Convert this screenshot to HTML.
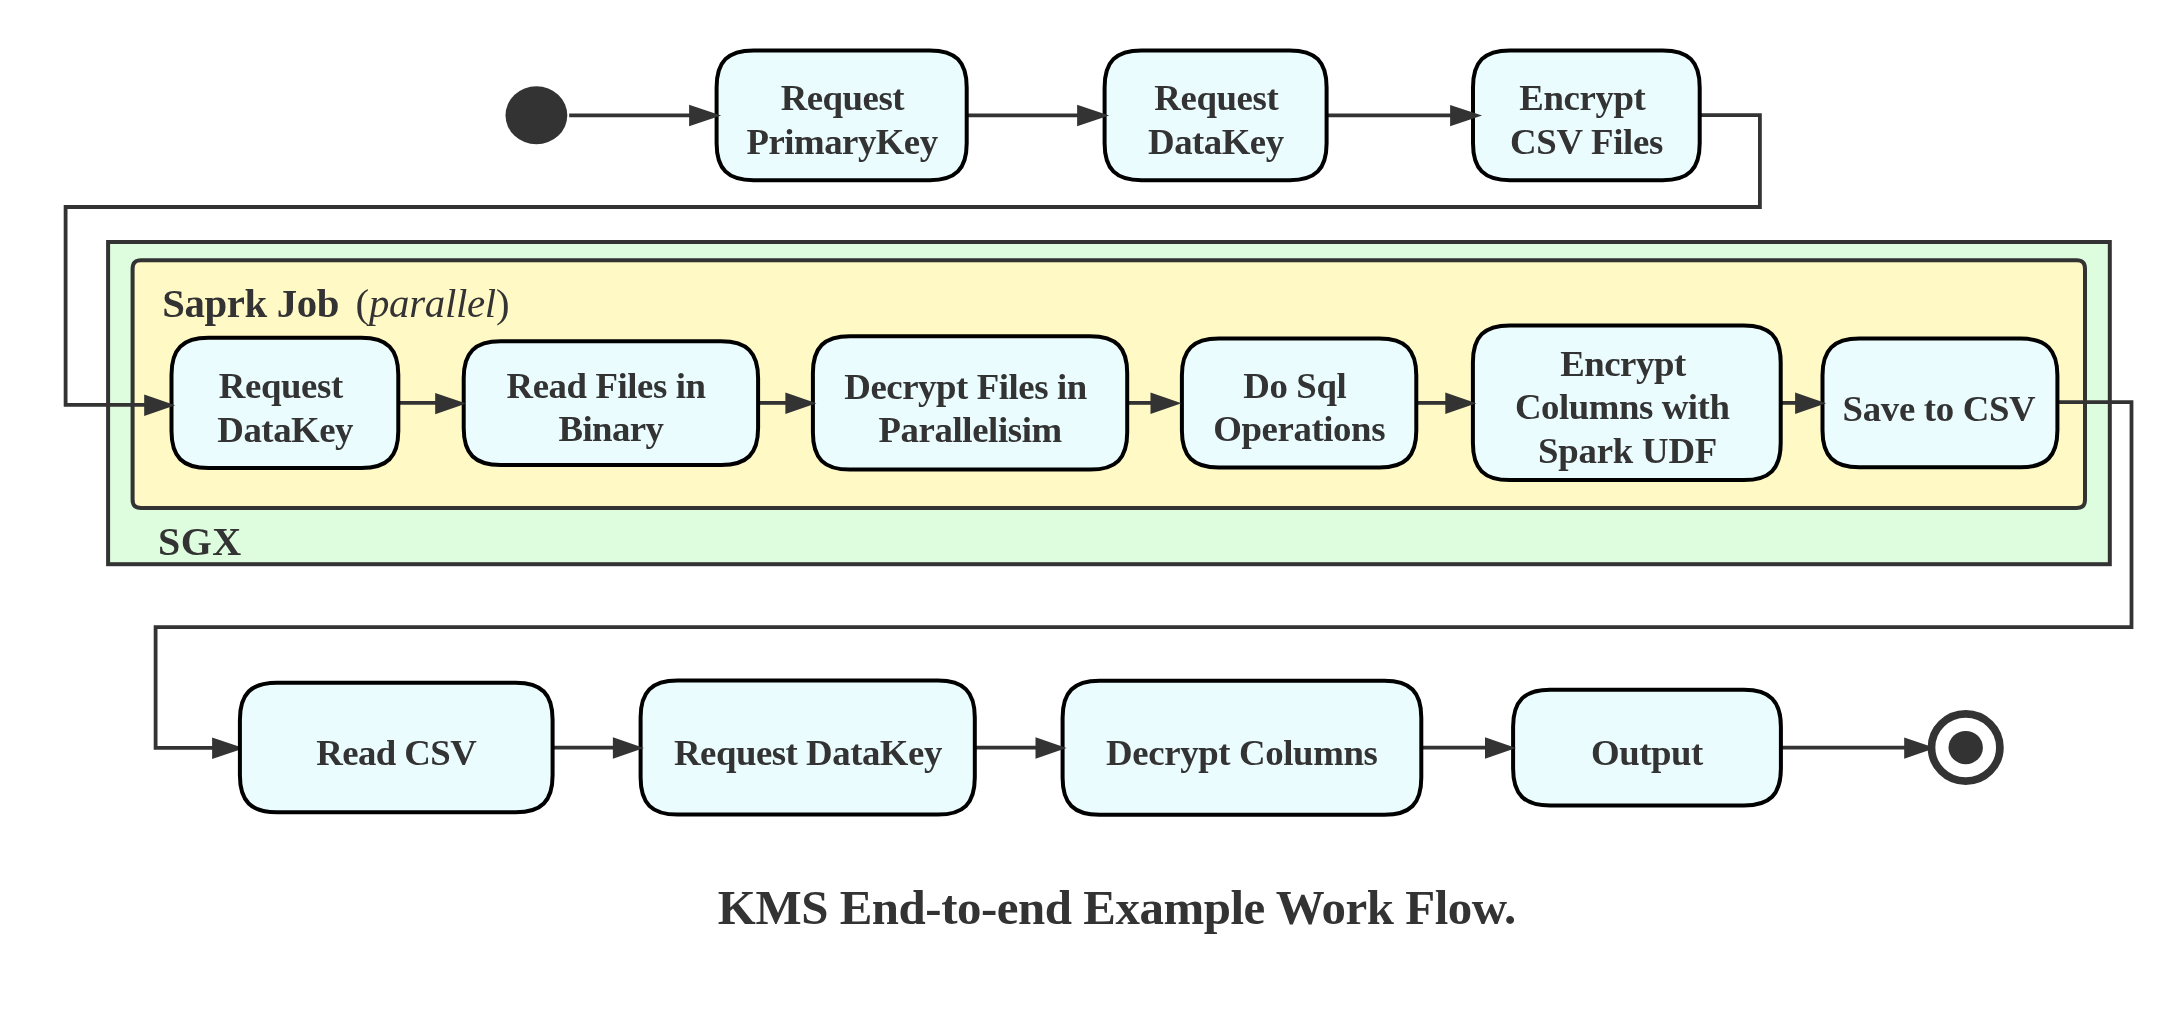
<!DOCTYPE html>
<html><head><meta charset="utf-8"><title>KMS End-to-end Example Work Flow</title>
<style>html,body{margin:0;padding:0;background:#fff;overflow:hidden}svg{display:block;will-change:transform}</style>
</head><body>
<svg width="2179" height="1036" viewBox="0 0 2179 1036"><rect x="108.1" y="242" width="2001.7" height="322.2" fill="#DEFDDE" stroke="#333333" stroke-width="4"/>
<path d="M141.10 260.20H2076.50C2082.45 260.20 2085.00 262.75 2085.00 268.70V499.50C2085.00 505.45 2082.45 508.00 2076.50 508.00H141.10C135.15 508.00 132.60 505.45 132.60 499.50V268.70C132.60 262.75 135.15 260.20 141.10 260.20Z" fill="#FFF9C6" stroke="#333333" stroke-width="4"/>
<polyline points="1701,115.2 1759.9,115.2 1759.9,207 65.6,207 65.6,404.8 150,404.8" fill="none" stroke="#333333" stroke-width="3.8" stroke-linejoin="miter"/>
<polyline points="2057,402.1 2131.5,402.1 2131.5,627.2 155.6,627.2 155.6,747.8 215,747.8" fill="none" stroke="#333333" stroke-width="3.8" stroke-linejoin="miter"/>
<ellipse cx="536.4" cy="115.3" rx="30.9" ry="29" fill="#333333"/>
<line x1="569.2" y1="115.3" x2="692.0" y2="115.3" stroke="#333333" stroke-width="3.8"/>
<line x1="966.0" y1="115.3" x2="1080.0" y2="115.3" stroke="#333333" stroke-width="3.8"/>
<line x1="1326.0" y1="115.3" x2="1453.0" y2="115.3" stroke="#333333" stroke-width="3.8"/>
<line x1="398.0" y1="402.9" x2="438.0" y2="402.9" stroke="#333333" stroke-width="3.8"/>
<line x1="758.0" y1="402.9" x2="788.0" y2="402.9" stroke="#333333" stroke-width="3.8"/>
<line x1="1127.0" y1="402.9" x2="1157.0" y2="402.9" stroke="#333333" stroke-width="3.8"/>
<line x1="1416.0" y1="402.9" x2="1448.0" y2="402.9" stroke="#333333" stroke-width="3.8"/>
<line x1="1780.0" y1="402.9" x2="1798.0" y2="402.9" stroke="#333333" stroke-width="3.8"/>
<line x1="552.0" y1="747.7" x2="616.0" y2="747.7" stroke="#333333" stroke-width="3.8"/>
<line x1="974.0" y1="747.7" x2="1038.0" y2="747.7" stroke="#333333" stroke-width="3.8"/>
<line x1="1421.0" y1="747.7" x2="1488.0" y2="747.7" stroke="#333333" stroke-width="3.8"/>
<line x1="1780.0" y1="747.7" x2="1908.0" y2="747.7" stroke="#333333" stroke-width="3.8"/>
<path d="M212.1 737.5L244.1 748.2L212.1 758.9Z" fill="#333333"/>
<path d="M753.60 50.40H929.70C955.60 50.40 966.70 61.50 966.70 87.40V143.20C966.70 169.10 955.60 180.20 929.70 180.20H753.60C727.70 180.20 716.60 169.10 716.60 143.20V87.40C716.60 61.50 727.70 50.40 753.60 50.40Z" fill="#EAFCFE" stroke="#000" stroke-width="4"/>
<path d="M1141.60 50.40H1289.60C1315.50 50.40 1326.60 61.50 1326.60 87.40V143.20C1326.60 169.10 1315.50 180.20 1289.60 180.20H1141.60C1115.70 180.20 1104.60 169.10 1104.60 143.20V87.40C1104.60 61.50 1115.70 50.40 1141.60 50.40Z" fill="#EAFCFE" stroke="#000" stroke-width="4"/>
<path d="M1510.00 50.40H1662.70C1688.60 50.40 1699.70 61.50 1699.70 87.40V143.20C1699.70 169.10 1688.60 180.20 1662.70 180.20H1510.00C1484.10 180.20 1473.00 169.10 1473.00 143.20V87.40C1473.00 61.50 1484.10 50.40 1510.00 50.40Z" fill="#EAFCFE" stroke="#000" stroke-width="4"/>
<path d="M208.50 337.80H361.30C387.20 337.80 398.30 348.90 398.30 374.80V431.00C398.30 456.90 387.20 468.00 361.30 468.00H208.50C182.60 468.00 171.50 456.90 171.50 431.00V374.80C171.50 348.90 182.60 337.80 208.50 337.80Z" fill="#EAFCFE" stroke="#000" stroke-width="4"/>
<path d="M500.70 341.30H721.10C747.00 341.30 758.10 352.40 758.10 378.30V428.00C758.10 453.90 747.00 465.00 721.10 465.00H500.70C474.80 465.00 463.70 453.90 463.70 428.00V378.30C463.70 352.40 474.80 341.30 500.70 341.30Z" fill="#EAFCFE" stroke="#000" stroke-width="4"/>
<path d="M849.90 336.20H1090.20C1116.10 336.20 1127.20 347.30 1127.20 373.20V432.60C1127.20 458.50 1116.10 469.60 1090.20 469.60H849.90C824.00 469.60 812.90 458.50 812.90 432.60V373.20C812.90 347.30 824.00 336.20 849.90 336.20Z" fill="#EAFCFE" stroke="#000" stroke-width="4"/>
<path d="M1218.90 338.60H1379.30C1405.20 338.60 1416.30 349.70 1416.30 375.60V430.50C1416.30 456.40 1405.20 467.50 1379.30 467.50H1218.90C1193.00 467.50 1181.90 456.40 1181.90 430.50V375.60C1181.90 349.70 1193.00 338.60 1218.90 338.60Z" fill="#EAFCFE" stroke="#000" stroke-width="4"/>
<path d="M1509.90 325.40H1743.70C1769.60 325.40 1780.70 336.50 1780.70 362.40V443.10C1780.70 469.00 1769.60 480.10 1743.70 480.10H1509.90C1484.00 480.10 1472.90 469.00 1472.90 443.10V362.40C1472.90 336.50 1484.00 325.40 1509.90 325.40Z" fill="#EAFCFE" stroke="#000" stroke-width="4"/>
<path d="M1859.50 338.60H2020.40C2046.30 338.60 2057.40 349.70 2057.40 375.60V430.30C2057.40 456.20 2046.30 467.30 2020.40 467.30H1859.50C1833.60 467.30 1822.50 456.20 1822.50 430.30V375.60C1822.50 349.70 1833.60 338.60 1859.50 338.60Z" fill="#EAFCFE" stroke="#000" stroke-width="4"/>
<path d="M276.90 682.70H515.60C541.50 682.70 552.60 693.80 552.60 719.70V775.30C552.60 801.20 541.50 812.30 515.60 812.30H276.90C251.00 812.30 239.90 801.20 239.90 775.30V719.70C239.90 693.80 251.00 682.70 276.90 682.70Z" fill="#EAFCFE" stroke="#000" stroke-width="4"/>
<path d="M677.60 680.60H937.80C963.70 680.60 974.80 691.70 974.80 717.60V777.60C974.80 803.50 963.70 814.60 937.80 814.60H677.60C651.70 814.60 640.60 803.50 640.60 777.60V717.60C640.60 691.70 651.70 680.60 677.60 680.60Z" fill="#EAFCFE" stroke="#000" stroke-width="4"/>
<path d="M1099.60 680.70H1384.30C1410.20 680.70 1421.30 691.80 1421.30 717.70V777.80C1421.30 803.70 1410.20 814.80 1384.30 814.80H1099.60C1073.70 814.80 1062.60 803.70 1062.60 777.80V717.70C1062.60 691.80 1073.70 680.70 1099.60 680.70Z" fill="#EAFCFE" stroke="#000" stroke-width="4"/>
<path d="M1550.10 689.80H1743.90C1769.80 689.80 1780.90 700.90 1780.90 726.80V768.50C1780.90 794.40 1769.80 805.50 1743.90 805.50H1550.10C1524.20 805.50 1513.10 794.40 1513.10 768.50V726.80C1513.10 700.90 1524.20 689.80 1550.10 689.80Z" fill="#EAFCFE" stroke="#000" stroke-width="4"/>
<path d="M689.1 104.8L721.1 115.5L689.1 126.2Z" fill="#333333"/>
<path d="M1077.1 104.8L1109.1 115.5L1077.1 126.2Z" fill="#333333"/>
<path d="M1450.1 104.9L1482.1 115.6L1450.1 126.3Z" fill="#333333"/>
<path d="M144.2 394.5L175.2 405.2L144.2 415.9Z" fill="#333333"/>
<path d="M435.2 392.9L466.2 403.6L435.2 414.3Z" fill="#333333"/>
<path d="M785.4 392.6L816.4 403.3L785.4 414.0Z" fill="#333333"/>
<path d="M1150.5 392.6L1181.5 403.3L1150.5 414.0Z" fill="#333333"/>
<path d="M1445.3 392.6L1476.3 403.3L1445.3 414.0Z" fill="#333333"/>
<path d="M1795.1 392.6L1826.1 403.3L1795.1 414.0Z" fill="#333333"/>
<path d="M612.9 737.3L643.9 748.0L612.9 758.7Z" fill="#333333"/>
<path d="M1035.5 737.3L1066.5 748.0L1035.5 758.7Z" fill="#333333"/>
<path d="M1485.0 737.3L1516.0 748.0L1485.0 758.7Z" fill="#333333"/>
<path d="M1904.2 737.4L1935.2 748.1L1904.2 758.8Z" fill="#333333"/>
<ellipse cx="1965.7" cy="747.5" rx="34.2" ry="33.6" fill="#fff" stroke="#333333" stroke-width="7.7"/>
<ellipse cx="1965.7" cy="747.6" rx="17.2" ry="16.6" fill="#333333"/>
<text x="780.65" y="110.10" style="font-family:'Liberation Serif',serif;font-weight:bold;font-size:36.8px;letter-spacing:-0.473px" fill="#333">Request</text>
<text x="746.55" y="153.90" style="font-family:'Liberation Serif',serif;font-weight:bold;font-size:36.8px;letter-spacing:-0.514px" fill="#333">PrimaryKey</text>
<text x="1154.35" y="110.10" style="font-family:'Liberation Serif',serif;font-weight:bold;font-size:36.8px;letter-spacing:-0.390px" fill="#333">Request</text>
<text x="1148.06" y="154.00" style="font-family:'Liberation Serif',serif;font-weight:bold;font-size:36.8px;letter-spacing:-0.486px" fill="#333">DataKey</text>
<text x="1519.25" y="109.90" style="font-family:'Liberation Serif',serif;font-weight:bold;font-size:36.8px;letter-spacing:-0.377px" fill="#333">Encrypt</text>
<text x="1509.96" y="154.00" style="font-family:'Liberation Serif',serif;font-weight:bold;font-size:36.8px;letter-spacing:-0.288px" fill="#333">CSV Files</text>
<text x="218.75" y="398.10" style="font-family:'Liberation Serif',serif;font-weight:bold;font-size:36.8px;letter-spacing:-0.373px" fill="#333">Request</text>
<text x="217.36" y="442.00" style="font-family:'Liberation Serif',serif;font-weight:bold;font-size:36.8px;letter-spacing:-0.486px" fill="#333">DataKey</text>
<text x="506.55" y="398.00" style="font-family:'Liberation Serif',serif;font-weight:bold;font-size:36.8px;letter-spacing:-0.418px" fill="#333">Read Files in</text>
<text x="558.45" y="441.40" style="font-family:'Liberation Serif',serif;font-weight:bold;font-size:36.8px;letter-spacing:-0.571px" fill="#333">Binary</text>
<text x="844.26" y="398.50" style="font-family:'Liberation Serif',serif;font-weight:bold;font-size:36.8px;letter-spacing:-0.429px" fill="#333">Decrypt Files in</text>
<text x="878.45" y="442.00" style="font-family:'Liberation Serif',serif;font-weight:bold;font-size:36.8px;letter-spacing:-0.387px" fill="#333">Parallelisim</text>
<text x="1243.26" y="397.80" style="font-family:'Liberation Serif',serif;font-weight:bold;font-size:36.8px;letter-spacing:-0.352px" fill="#333">Do Sql</text>
<text x="1213.16" y="441.20" style="font-family:'Liberation Serif',serif;font-weight:bold;font-size:36.8px;letter-spacing:-0.383px" fill="#333">Operations</text>
<text x="1560.15" y="375.70" style="font-family:'Liberation Serif',serif;font-weight:bold;font-size:36.8px;letter-spacing:-0.461px" fill="#333">Encrypt</text>
<text x="1514.96" y="419.10" style="font-family:'Liberation Serif',serif;font-weight:bold;font-size:36.8px;letter-spacing:-0.444px" fill="#333">Columns with</text>
<text x="1537.98" y="463.00" style="font-family:'Liberation Serif',serif;font-weight:bold;font-size:36.8px;letter-spacing:-0.199px" fill="#333">Spark UDF</text>
<text x="1842.58" y="421.00" style="font-family:'Liberation Serif',serif;font-weight:bold;font-size:36.8px;letter-spacing:-0.315px" fill="#333">Save to CSV</text>
<text x="316.25" y="765.00" style="font-family:'Liberation Serif',serif;font-weight:bold;font-size:36.8px;letter-spacing:-0.582px" fill="#333">Read CSV</text>
<text x="673.95" y="764.50" style="font-family:'Liberation Serif',serif;font-weight:bold;font-size:36.8px;letter-spacing:-0.470px" fill="#333">Request DataKey</text>
<text x="1106.06" y="765.30" style="font-family:'Liberation Serif',serif;font-weight:bold;font-size:36.8px;letter-spacing:-0.368px" fill="#333">Decrypt Columns</text>
<text x="1591.06" y="765.30" style="font-family:'Liberation Serif',serif;font-weight:bold;font-size:36.8px;letter-spacing:-0.445px" fill="#333">Output</text>
<text x="717.87" y="924.00" style="font-family:'Liberation Serif',serif;font-weight:bold;font-size:48.9px;letter-spacing:-0.448px" fill="#333">KMS End-to-end Example Work Flow.</text>
<text x="158.00" y="555.00" style="font-family:'Liberation Serif',serif;font-weight:bold;font-size:40.0px;letter-spacing:0.500px" fill="#333">SGX</text>
<text x="162.16" y="316.80" style="font-family:'Liberation Serif',serif;font-weight:bold;font-size:40.8px;letter-spacing:-0.358px" fill="#333">Saprk Job</text>
<text x="355.56" y="316.80" style="font-family:'Liberation Serif',serif;font-weight:normal;font-size:40.8px;letter-spacing:-0.266px" fill="#333">(<tspan style="font-family:'Liberation Serif',serif;font-style:italic;font-weight:normal">parallel</tspan>)</text></svg>
</body></html>
